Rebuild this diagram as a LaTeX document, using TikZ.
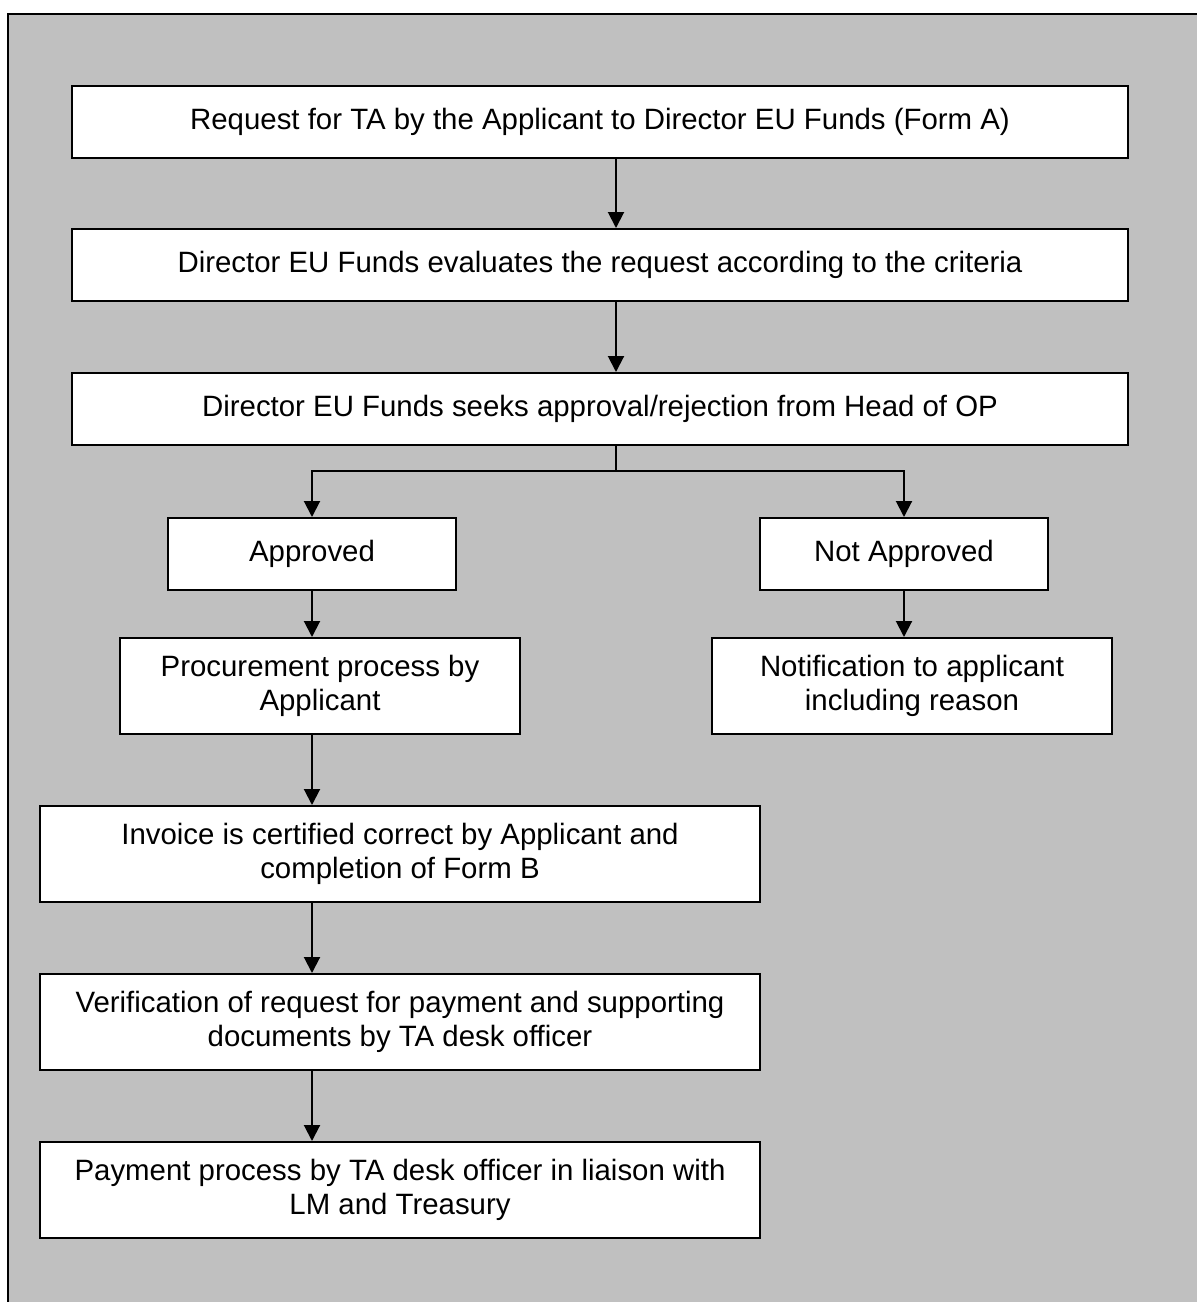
\documentclass[tikz,border=0pt]{standalone}
\usepackage{fontspec}
\setmainfont{Liberation Sans}
\usetikzlibrary{arrows.meta}
\definecolor{fondgris}{RGB}{192,192,192}

\begin{document}
\begin{tikzpicture}[x=0.5pt, y=-0.5pt,
		boite/.style={draw, fill=white, line width=1pt, align=center, inner sep=0pt,
			font=\fontsize{14.7}{17}\selectfont},
		fleche/.style={-{Triangle[length=8pt, width=8pt]}, line width=1pt}]
			\path[use as bounding box] (0,0) rectangle (1197,1302);
			\draw[fill=fondgris, line width=1pt] (8,14) rectangle (1240,1340);
			% colonne principale
			\node[boite, minimum width=528pt, minimum height=36pt] (P1) at (600,122) {Request for TA by the Applicant to Director EU Funds (Form A)};
			\node[boite, minimum width=528pt, minimum height=36pt] (P2) at (600,265) {Director EU Funds evaluates the request according to the criteria};
			\node[boite, minimum width=528pt, minimum height=36pt] (P3) at (600,409) {Director EU Funds seeks approval/rejection from Head of OP};
			% decision
			\node[boite, minimum width=144pt, minimum height=36pt] (A1) at (312,554) {Approved};
			\node[boite, minimum width=144pt, minimum height=36pt] (A2) at (904,554) {Not Approved};
			\node[boite, minimum width=200pt, minimum height=48pt] (P6) at (320,686) {Procurement process by\\Applicant};
			\node[boite, minimum width=200pt, minimum height=48pt] (P7) at (912,686) {Notification to applicant\\including reason};
			\node[boite, minimum width=360pt, minimum height=48pt] (P8) at (400,854) {Invoice is certified correct by Applicant and\\completion of Form B};
			\node[boite, minimum width=360pt, minimum height=48pt] (P9) at (400,1022) {Verification of request for payment and supporting\\documents by TA desk officer};
			\node[boite, minimum width=360pt, minimum height=48pt] (P10) at (400,1190) {Payment process by TA desk officer in liaison with\\LM and Treasury};
			% fleches
			\draw[fleche] ([xshift=8pt]P1.south) to ([xshift=8pt]P2.north);
			\draw[fleche] ([xshift=8pt]P2.south) to ([xshift=8pt]P3.north);
			\draw[line width=1pt] ([xshift=8pt]P3.south) -- ([xshift=8pt, yshift=-12.5pt]P3.south) coordinate (B);
			\draw[fleche] (B) -| (A1.north);
			\draw[fleche] (B) -| (A2.north);
			\draw[fleche] (A1.south) to (A1.south |- P6.north);
			\draw[fleche] (A2.south) to (A2.south |- P7.north);
			\draw[fleche] (A1.south |- P6.south) to (A1.south |- P8.north);
			\draw[fleche] (A1.south |- P8.south) to (A1.south |- P9.north);
			\draw[fleche] (A1.south |- P9.south) to (A1.south |- P10.north);
		\end{tikzpicture}
\end{document}
